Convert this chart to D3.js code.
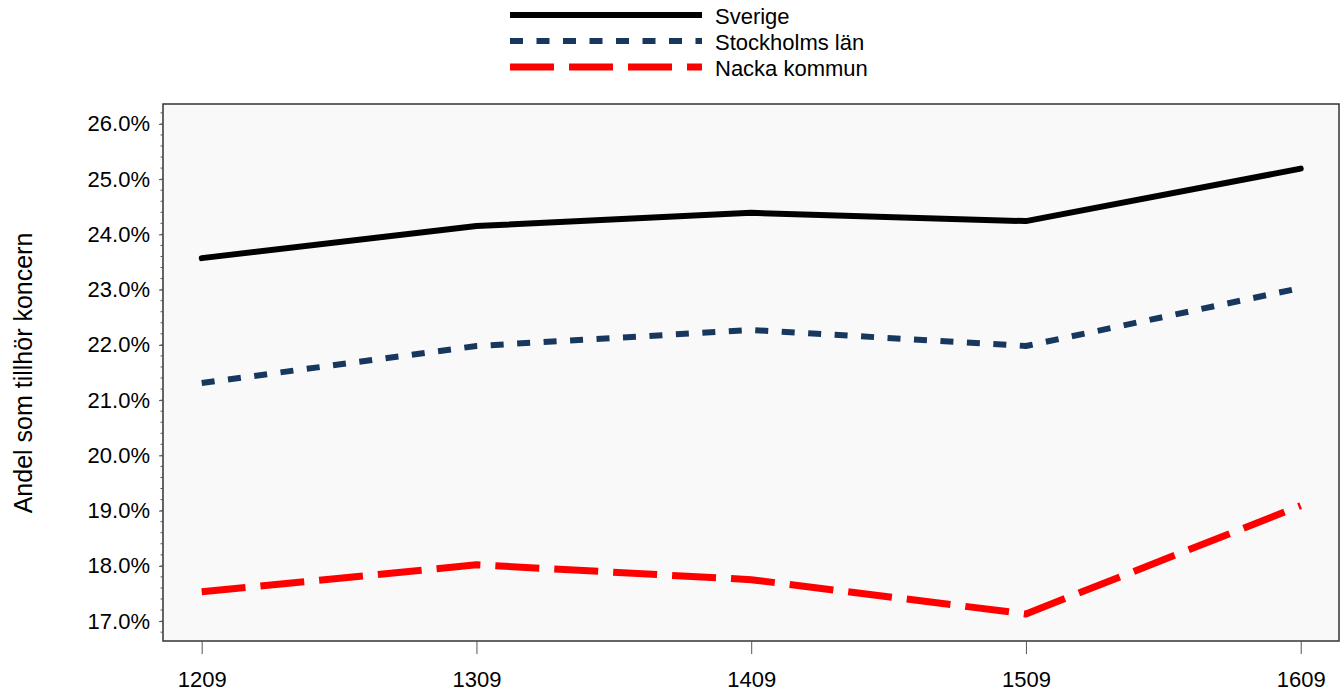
<!DOCTYPE html>
<html><head><meta charset="utf-8">
<script src="https://cdn.jsdelivr.net/npm/d3@7"></script>
<style>body{margin:0;background:#fff}svg{display:block}text{font-family:"Liberation Sans",Arial,sans-serif}</style>
</head><body>
<script>
const categories = ["1209","1309","1409","1509","1609"];
const sverige = [23.57, 24.15, 24.39, 24.24, 25.19];
const stockholm = [21.31, 21.98, 22.27, 21.98, 23.03];
const nacka = [17.53, 18.02, 17.75, 17.13, 19.09];
const seriesNames = ["Sverige","Stockholms län","Nacka kommun"];
const yTicks = [17,18,19,20,21,22,23,24,25,26];

const W=1343,H=692;
const m={l:163,t:104,r:1339,b:641};
const svg=d3.select("body").append("svg").attr("width",W).attr("height",H);
const x=d3.scalePoint().domain(categories).range([201.7,1300.7]);
const y=d3.scaleLinear().domain([16.64,26.36]).range([m.b,m.t]);

svg.append("rect").attr("x",m.l).attr("y",m.t).attr("width",m.r-m.l).attr("height",m.b-m.t)
  .attr("fill","#f9f9f9").attr("stroke","#333").attr("stroke-width",1.5);

// minor ticks
const minor=d3.range(16.8,26.3,0.2);
svg.append("g").selectAll("line").data(minor).join("line")
  .attr("x1",m.l-2.5).attr("x2",m.l).attr("y1",d=>y(d)).attr("y2",d=>y(d)).attr("stroke","#555").attr("stroke-width",1);

const ya=svg.append("g").attr("transform",`translate(${m.l},0)`)
  .call(d3.axisLeft(y).tickValues(yTicks).tickFormat(d=>d.toFixed(1)+"%").tickSize(4).tickPadding(9));
ya.select(".domain").remove();
ya.selectAll("line").attr("stroke","#555");
ya.selectAll("text").attr("font-size",22).attr("fill","#000");

const xa=svg.append("g").attr("transform",`translate(0,${m.b})`)
  .call(d3.axisBottom(x).tickSize(13).tickPadding(17));
xa.select(".domain").remove();
xa.selectAll("line").attr("stroke","#555");
xa.selectAll("text").attr("font-size",22).attr("fill","#000");

svg.append("text").attr("transform","translate(32,373) rotate(-90)").attr("text-anchor","middle")
  .attr("font-size",25).text("Andel som tillhör koncern");

const styles=[
  {data:sverige,color:"#000",w:6,dash:null},
  {data:stockholm,color:"#17375e",w:6,dash:"13,13.5"},
  {data:nacka,color:"#ff0000",w:7,dash:"44,15"}
];
const line=d3.line().x((d,i)=>x(categories[i])).y(d=>y(d));
styles.forEach(s=>{
  svg.append("path").datum(s.data).attr("d",line).attr("fill","none")
    .attr("stroke",s.color).attr("stroke-width",s.w).attr("stroke-dasharray",s.dash)
    .attr("stroke-linecap",s.dash?"butt":"round").attr("stroke-linejoin","round");
});

// legend
const lg=svg.append("g");
styles.forEach((s,i)=>{
  const yy=15+i*26;
  lg.append("line").attr("x1",510).attr("x2",702).attr("y1",yy).attr("y2",yy)
    .attr("stroke",s.color).attr("stroke-width",s.w).attr("stroke-dasharray",s.dash);
  lg.append("text").attr("x",715).attr("y",yy+9).attr("font-size",22).text(seriesNames[i]);
});
</script>
</body></html>
